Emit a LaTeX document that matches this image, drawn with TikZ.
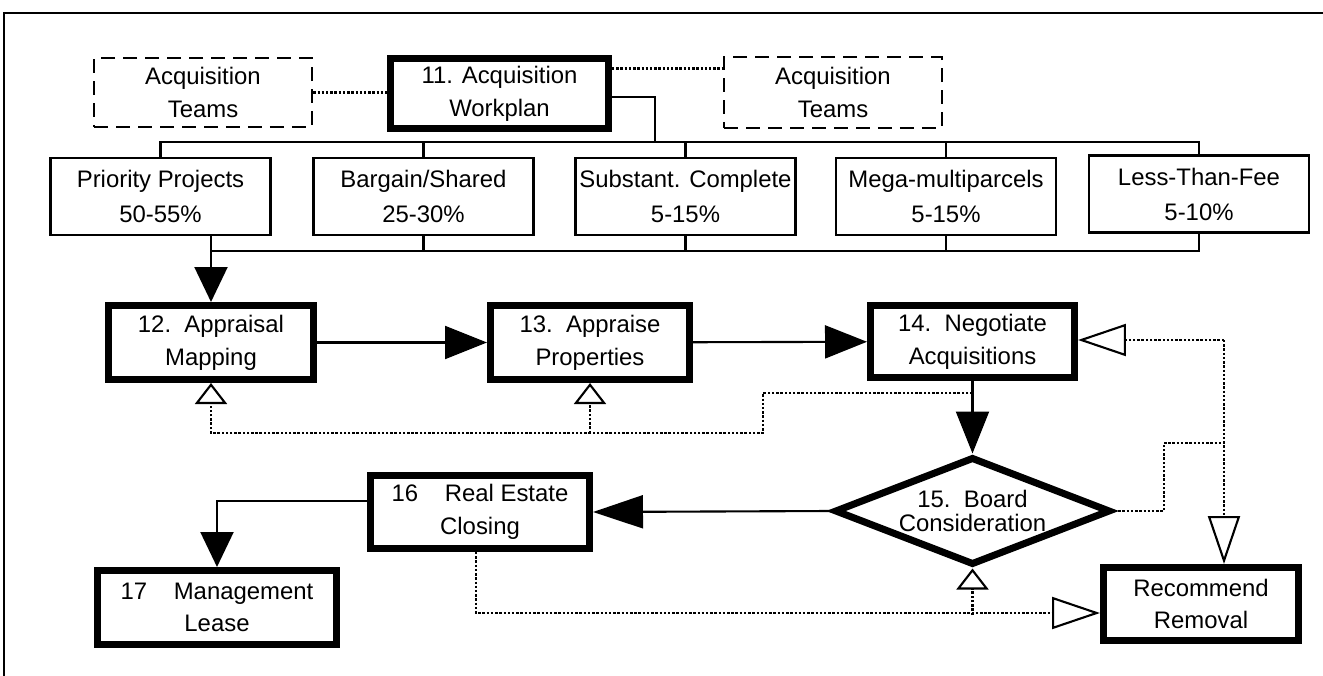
\documentclass[tikz,border=0pt]{standalone}
\usepackage{fontspec}
\setmainfont{Liberation Sans}
\usetikzlibrary{arrows.meta,shapes.geometric}

\begin{document}
\begin{tikzpicture}[x=0.02cm, y=-0.02cm,
  font=\fontsize{13.6}{18.6}\selectfont,
  box/.style={draw, line width=1.2pt, align=center, inner sep=0pt},
  catbox/.style={box, minimum width=4.4cm, minimum height=1.54cm, font=\fontsize{13.6}{19.9}\selectfont},
  mainbox/.style={draw, line width=4pt, align=center, inner sep=0pt},
  teambox/.style={box, line width=1.6pt, dash pattern=on 0.28cm off 0.16cm},
  conn/.style={line width=1.2pt},
  flow/.style={conn, -{Triangle[length=#1, width=0.66cm]}}, flow/.default=0.84cm,
  back/.style={line width=1.4pt, dash pattern=on 1.4pt off 1pt},
  backshort/.style={back, -{Triangle[open, length=0.42cm, width=0.64cm, line width=1.2pt]}},
  backlong/.style={back, -{Triangle[open, length=0.96cm, width=0.64cm, line width=1.2pt]}}]

\useasboundingbox (0,0) rectangle (1323,676);
\draw[line width=1.2pt] (4,676) -- (4,13) -- (1323,13);

\node[teambox, minimum width=4.36cm, minimum height=1.38cm] (teamsL) at (203,92.5) {Acquisition\\Teams};
\node[mainbox, minimum width=4.36cm, minimum height=1.40cm] (plan) at (499.5,93.5) {11. Acquisition\\Workplan};
\node[teambox, minimum width=4.36cm, minimum height=1.42cm] (teamsR) at (833,92.5) {Acquisition\\Teams};

\node[catbox] (prio) at (160.5,196.5) {Priority Projects\\50-55\%};
\node[catbox] (barg) at (423.5,196.5) {Bargain/Shared\\25-30\%};
\node[catbox] (subst) at (685.5,196.5) {Substant. Complete\\5-15\%};
\node[catbox] (mega) at (946,196.5) {Mega-multiparcels\\5-15\%};
\node[catbox] (ltf) at (1199,194) {Less-Than-Fee\\5-10\%};

\node[mainbox, minimum width=4.12cm, minimum height=1.48cm] (apm) at (211,342.5) {12.\ \ Appraisal\\Mapping};
\node[mainbox, minimum width=3.98cm, minimum height=1.48cm] (apr) at (590,342.5) {13.\ \ Appraise\\Properties};
\node[mainbox, minimum width=4.08cm, minimum height=1.44cm] (neg) at (972.5,341.5) {14.\ \ Negotiate\\Acquisitions};
\node[mainbox, diamond, aspect=2.55, minimum width=5.52cm, minimum height=2.16cm,
  font=\fontsize{13.6}{13.8}\selectfont] (board) at (972.5,511) {15.\ \ Board\\Consideration};
\node[mainbox, minimum width=4.38cm, minimum height=1.46cm] (close) at (480,512) {16\ \ \ \ Real Estate\\Closing};
\node[mainbox, minimum width=4.78cm, minimum height=1.48cm] (lease) at (217,607.5) {17\ \ \ \ Management\\Lease};
\node[mainbox, minimum width=3.90cm, minimum height=1.46cm] (remove) at (1201,604) {Recommend\\Removal};

\coordinate (tbus) at (655,142);
\coordinate (bbus) at (0,251);
\coordinate (fbtop) at (0,393);
\coordinate (fbrow) at (0,433);
\coordinate (fbbot) at (0,615);
\coordinate (fbr) at (1224,340);
\coordinate (fbmid) at (1224,443);

\draw[back] (teamsL.east) -- (teamsL.east -| plan.west);
\draw[back] ([yshift=0.5cm]plan.east) -- ([yshift=0.5cm]plan.east -| teamsR.west);
\draw[conn] ([yshift=-0.07cm]plan.east) -| (tbus);

\draw[conn] (prio.north) -- (prio.north |- tbus) -- (ltf.north |- tbus) -- (ltf.north);
\foreach \n in {barg,subst,mega}
  \draw[conn] (\n.north) -- (\n.north |- tbus);
\draw[conn] (apm.north |- bbus) -- (ltf.south |- bbus) -- (ltf.south);
\foreach \n in {barg,subst,mega}
  \draw[conn] (\n.south) -- (\n.south |- bbus);

\draw[flow=0.7cm] (apm.north |- prio.south) -- (apm.north);
\draw[flow] (apm) -- (apr);
\draw[flow] (apr) -- (neg);
\draw[flow] (neg) -- (board);
\draw[flow=1cm] (board.west) -- (close.east);
\draw[flow=0.7cm] ([yshift=0.22cm]close.west) -| (lease.north);

\draw[backshort] (neg.south |- fbtop) -| (763,433) -| (apm.south);
\draw[backshort] (apr.south |- fbrow) -- (apr.south);
\draw[back] (board.east) -- ++(50,0) |- (fbmid);
\draw[backlong] (fbr) -- (fbr -| neg.east);
\draw[backlong] (fbr) -- (fbr |- remove.north);
\draw[backlong] ([xshift=-0.08cm]close.south) |- ([yshift=-0.18cm]remove.west);
\draw[backshort] (board.south |- fbbot) -- (board.south);

\end{tikzpicture}
\end{document}
